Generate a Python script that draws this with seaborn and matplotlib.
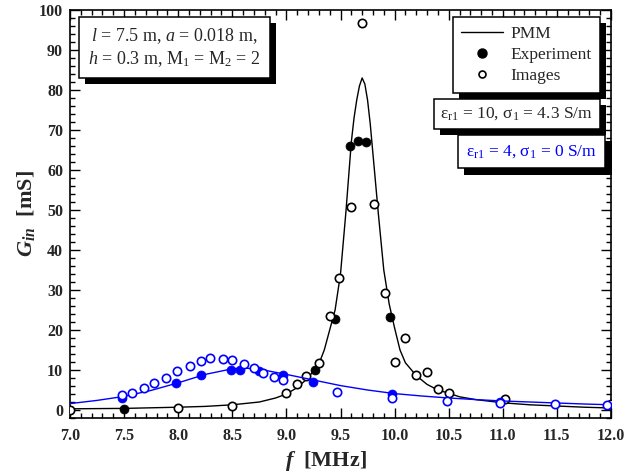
import matplotlib
matplotlib.use("Agg")
import matplotlib.pyplot as plt
import matplotlib.patheffects as pe
from matplotlib.lines import Line2D
from matplotlib.ticker import MultipleLocator, FormatStrFormatter
import seaborn as sns

# PMM input conductance, eps_r1 = 10, sigma_1 = 4.3 S/m
freq_pmm_lossy = [7.0, 7.5, 8.0, 8.25, 8.5, 8.75, 8.9, 9.0, 9.1, 9.2, 9.25, 9.3,
                  9.35, 9.4, 9.45, 9.5, 9.55, 9.6, 9.625, 9.65, 9.675, 9.7, 9.725,
                  9.75, 9.775, 9.8, 9.85, 9.9, 9.95, 10.0, 10.05, 10.1, 10.2, 10.3,
                  10.4, 10.5, 10.6, 10.75, 11.0, 11.25, 11.5, 11.75, 12.0]
gin_pmm_lossy = [0.3, 0.4, 0.7, 0.9, 1.3, 2.0, 3.0, 4.0, 5.6, 8.0, 9.8, 11.5,
                 15.0, 20.0, 25.0, 34.0, 49.5, 67.0, 73.0, 77.5, 81.0, 83.0, 81.5,
                 77.5, 71.5, 64.0, 49.0, 35.0, 26.5, 20.5, 15.0, 11.8, 8.6, 6.4,
                 5.0, 4.2, 3.3, 2.6, 1.8, 1.3, 1.0, 0.7, 0.5]

# PMM input conductance, eps_r1 = 4, sigma_1 = 0 S/m
freq_pmm_lossless = [7.0, 7.25, 7.5, 7.75, 8.0, 8.25, 8.5, 8.6, 8.75, 9.0, 9.25,
                     9.5, 9.75, 10.0, 10.25, 10.5, 10.75, 11.0, 11.25, 11.5,
                     11.75, 12.0]
gin_pmm_lossless = [1.6, 2.4, 3.4, 4.9, 6.8, 8.9, 10.3, 10.5, 10.2, 8.9, 7.5,
                    6.1, 5.0, 4.1, 3.5, 3.0, 2.6, 2.25, 2.0, 1.75, 1.5, 1.3]

# Measurements
freq_exp_lossy = [7.5, 9.26, 9.45, 9.59, 9.665, 9.74, 9.955]
gin_exp_lossy = [0.3, 10.0, 22.8, 66.1, 67.3, 67.1, 23.2]
freq_exp_lossless = [7.48, 7.98, 8.21, 8.49, 8.575, 8.75, 8.97, 9.25, 9.98, 10.97]
gin_exp_lossless = [3.1, 6.7, 8.7, 9.9, 10.1, 9.7, 8.8, 7.0, 3.9, 2.0]

# Method of images
freq_img_lossy = [7.0, 8.0, 8.5, 9.0, 9.1, 9.18, 9.3, 9.4, 9.49, 9.6, 9.7, 9.81,
                  9.91, 10.0, 10.1, 10.2, 10.3, 10.4, 10.5, 11.02, 12.0]
gin_img_lossy = [0.0, 0.6, 1.1, 4.2, 6.4, 8.6, 11.8, 23.6, 33.1, 50.7, 96.8, 51.5,
                 29.3, 11.9, 17.9, 8.8, 9.6, 5.3, 4.3, 2.8, 1.5]
freq_img_lossless = [7.48, 7.57, 7.68, 7.78, 7.89, 7.99, 8.11, 8.21, 8.29, 8.41,
                     8.5, 8.61, 8.70, 8.78, 8.89, 8.97, 9.47, 9.98, 10.48, 10.97,
                     11.48, 11.96]
gin_img_lossless = [3.7, 4.3, 5.4, 6.7, 8.1, 9.7, 11.1, 12.3, 12.9, 12.8, 12.4,
                    11.5, 10.4, 9.3, 8.2, 7.5, 4.4, 2.9, 2.2, 1.7, 1.4, 1.2]

legend_labels = ["PMM", "Experiment", "Images"]
x_ticks = [7.0, 7.5, 8.0, 8.5, 9.0, 9.5, 10.0, 10.5, 11.0, 11.5, 12.0]
y_ticks = [0, 10, 20, 30, 40, 50, 60, 70, 80, 90, 100]

sns.set_style("ticks")
plt.rcParams["font.family"] = ["Liberation Serif", "DejaVu Serif"]
plt.rcParams["mathtext.fontset"] = "custom"
plt.rcParams["mathtext.rm"] = "Liberation Serif"
plt.rcParams["mathtext.it"] = "Liberation Serif:italic"
plt.rcParams["mathtext.bf"] = "Liberation Serif:bold"
plt.rcParams["mathtext.bfit"] = "Liberation Serif:bold:italic"

BLUE = "#0000ff"
fig = plt.figure(figsize=(6.25, 4.73), dpi=100)
ax = fig.add_axes([70 / 625, 55 / 473, 541 / 625, 408 / 473])

lw = 1.0
sns.lineplot(x=freq_pmm_lossy, y=gin_pmm_lossy, ax=ax, color="black", lw=lw,
             sort=False, zorder=2)
sns.scatterplot(x=freq_exp_lossy, y=gin_exp_lossy, ax=ax, color="black", s=42,
                edgecolor="black", linewidth=0.5, zorder=3)
sns.scatterplot(x=freq_img_lossy, y=gin_img_lossy, ax=ax, facecolor="white", s=36,
                edgecolor="black", linewidth=1.2, zorder=3)
sns.lineplot(x=freq_pmm_lossless, y=gin_pmm_lossless, ax=ax, color=BLUE, lw=lw,
             sort=False, zorder=4)
sns.scatterplot(x=freq_exp_lossless, y=gin_exp_lossless, ax=ax, color=BLUE, s=42,
                edgecolor=BLUE, linewidth=0.5, zorder=5)
sns.scatterplot(x=freq_img_lossless, y=gin_img_lossless, ax=ax, facecolor="white",
                s=36, edgecolor=BLUE, linewidth=1.2, zorder=5)

ax.set_xlim(7.0, 12.0)
ax.set_ylim(-2, 100)
ax.set_xticks(x_ticks)
ax.set_yticks(y_ticks)
ax.xaxis.set_major_formatter(FormatStrFormatter("%.1f"))
ax.xaxis.set_minor_locator(MultipleLocator(0.1))
ax.yaxis.set_minor_locator(MultipleLocator(2))
ax.tick_params(which="both", direction="in", top=True, right=True, width=1.0,
               color="black")
ax.tick_params(which="major", length=7)
ax.tick_params(which="minor", length=3.5)
ax.tick_params(axis="y", which="major", pad=5, labelsize=11.5)
ax.tick_params(axis="x", which="major", pad=7, labelsize=11.5)
for lab in ax.get_xticklabels() + ax.get_yticklabels():
    lab.set_fontweight("bold")
for sp in ax.spines.values():
    sp.set_visible(True)
    sp.set_linewidth(1.2)
    sp.set_color("black")

ax.set_xlabel(r"$\mathbfit{f}$  [MHz]", fontsize=16, fontweight="bold")
ax.set_ylabel(r"$\mathbfit{G}_{\mathbfit{in}}$  [mS]", fontsize=16,
              fontweight="bold")
ax.xaxis.set_label_coords(0.473, -0.076)
ax.yaxis.set_label_coords(-0.061, 0.5)

shadow = [pe.withSimplePatchShadow(offset=(4.5, -4.5), shadow_rgbFace="black",
                                   alpha=1.0)]

box_style = dict(boxstyle="square,pad=0.5", facecolor="white",
                 edgecolor="black", linewidth=1.1)
t1 = ax.text(0.193, 0.908,
             "$\\mathit{l}$ = 7.5 m, $\\mathit{a}$ = 0.018 m,\n"
             "$\\mathit{h}$ = 0.3 m, M$_1$ = M$_2$ = 2",
             transform=ax.transAxes, ha="center", va="center",
             multialignment="center", fontsize=13, bbox=box_style, zorder=10,
             linespacing=1.25)
t1.get_bbox_patch().set_path_effects(shadow)

handles = [Line2D([], [], color="black", lw=lw),
           Line2D([], [], color="black", marker="o", ls="none", markersize=6.5),
           Line2D([], [], color="black", marker="o", ls="none", markersize=5,
                  markerfacecolor="white", markeredgewidth=1.2)]
leg = ax.legend(handles, legend_labels, loc="upper right",
                bbox_to_anchor=(0.9797, 0.983), borderaxespad=0, fontsize=12.5,
                frameon=True, fancybox=False, handlelength=2.4,
                handletextpad=0.4, labelspacing=0.3, borderpad=0.5)
frame = leg.get_frame()
frame.set_edgecolor("black")
frame.set_linewidth(1.1)
frame.set_alpha(1.0)
frame.set_path_effects(shadow)
leg.set_zorder(9)

t2 = ax.text(0.826, 0.746, "ε$_{\\mathrm{r1}}$ = 10, σ$_{\\mathrm{1}}$ = 4.3 S/m",
             transform=ax.transAxes, ha="center", va="center", fontsize=12.5,
             bbox=dict(box_style, boxstyle="square,pad=0.38"), zorder=11)
t2.get_bbox_patch().set_path_effects(shadow)
t3 = ax.text(0.853, 0.653, "ε$_{\\mathrm{r1}}$ = 4, σ$_{\\mathrm{1}}$ = 0 S/m",
             transform=ax.transAxes, ha="center", va="center", fontsize=12.5,
             color=BLUE, bbox=dict(box_style, boxstyle="square,pad=0.48"),
             zorder=12)
t3.get_bbox_patch().set_path_effects(shadow)

fig.savefig("out.png", dpi=100)
